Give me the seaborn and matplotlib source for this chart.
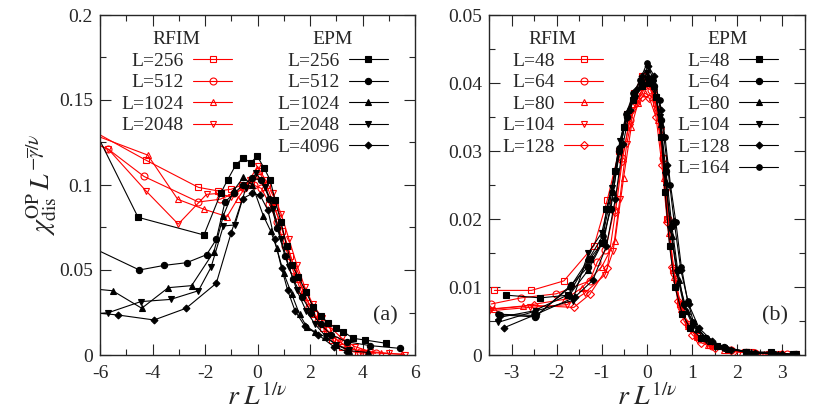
import pandas as pd
import matplotlib
matplotlib.use("Agg")
import matplotlib.pyplot as plt
import seaborn as sns
from matplotlib.ticker import MultipleLocator, FuncFormatter

# ---- panel (a): EPM, L = 256 ... 4096 ----
a_epm_256_x = [-6.9, -4.55, -2.04, -1.39, -1.14, -0.82, -0.54, -0.26, -0.01, 0.25, 0.48, 0.67, 0.9, 1.11, 1.3, 1.56, 1.85, 2.13, 2.42, 2.7, 3.0, 3.27, 3.65, 4.1, 4.9]
a_epm_256_y = [0.154, 0.081, 0.0706, 0.0955, 0.103, 0.112, 0.116, 0.113, 0.117, 0.110, 0.103, 0.091, 0.078, 0.064, 0.053, 0.046, 0.037, 0.028, 0.023, 0.0186, 0.0157, 0.0137, 0.0098, 0.0088, 0.0069]
a_epm_512_x = [-7.5, -4.5, -3.56, -2.7, -1.94, -1.57, -1.24, -0.9, -0.55, -0.2, 0.15, 0.45, 0.75, 1.05, 1.35, 1.7, 2.05, 2.4, 2.8, 3.4, 4.3, 5.43]
a_epm_512_y = [0.072, 0.050, 0.0527, 0.0543, 0.059, 0.068, 0.090, 0.095, 0.100, 0.104, 0.103, 0.092, 0.075, 0.058, 0.045, 0.034, 0.025, 0.018, 0.012, 0.0078, 0.0055, 0.0039]
a_epm_1024_x = [-7.0, -5.52, -4.41, -3.4, -2.51, -1.66, -1.3, -0.9, -0.54, -0.2, 0.22, 0.5, 0.73, 1.0, 1.3, 1.6, 1.87, 2.2, 2.57, 3.0, 3.5, 4.2]
a_epm_1024_y = [0.040, 0.0378, 0.0275, 0.0396, 0.0408, 0.0608, 0.082, 0.097, 0.1045, 0.100, 0.082, 0.073, 0.063, 0.048, 0.036, 0.024, 0.0167, 0.0135, 0.0108, 0.006, 0.0025, 0.0015]
a_epm_2048_x = [-7.0, -5.68, -4.45, -3.31, -2.25, -1.77, -1.3, -0.86, -0.45, -0.05, 0.3, 0.6, 0.9, 1.2, 1.5, 1.85, 2.2, 2.6, 3.0, 3.5]
a_epm_2048_y = [0.023, 0.0249, 0.0314, 0.0327, 0.0378, 0.0516, 0.0759, 0.0765, 0.098, 0.107, 0.099, 0.086, 0.068, 0.052, 0.038, 0.026, 0.018, 0.011, 0.006, 0.003]
a_epm_4096_x = [-7.0, -5.3, -3.94, -2.72, -1.57, -1.0, -0.57, -0.2, 0.1, 0.4, 0.65, 0.92, 1.15, 1.43, 1.8, 2.32, 2.9, 3.4]
a_epm_4096_y = [0.026, 0.0235, 0.0206, 0.0275, 0.0422, 0.072, 0.092, 0.095, 0.094, 0.085, 0.068, 0.051, 0.038, 0.026, 0.017, 0.0118, 0.005, 0.002]

# ---- panel (a): RFIM, L = 256 ... 2048 ----
a_rfim_256_x = [-7.0, -4.26, -2.25, -1.5, -1.0, -0.6, -0.25, 0.05, 0.35, 0.65, 0.95, 1.25, 1.55, 1.85, 2.15, 2.5, 2.85, 3.2, 3.6, 4.0]
a_rfim_256_y = [0.138, 0.1147, 0.0986, 0.0965, 0.0975, 0.100, 0.101, 0.108, 0.100, 0.087, 0.073, 0.058, 0.045, 0.034, 0.024, 0.016, 0.009, 0.005, 0.002, 0.001]
a_rfim_512_x = [-7.0, -5.68, -4.32, -2.25, -1.43, -0.9, -0.5, -0.15, 0.15, 0.45, 0.75, 1.05, 1.35, 1.65, 1.95, 2.3, 2.65, 3.0, 3.4, 3.9, 4.5]
a_rfim_512_y = [0.13, 0.121, 0.105, 0.090, 0.0916, 0.095, 0.098, 0.100, 0.098, 0.089, 0.078, 0.064, 0.050, 0.038, 0.028, 0.020, 0.0145, 0.009, 0.005, 0.002, 0.001]
a_rfim_1024_x = [-7.0, -4.18, -3.04, -2.03, -1.16, -0.75, -0.4, -0.05, 0.25, 0.55, 0.85, 1.15, 1.45, 1.75, 2.05, 2.4, 2.75, 3.1, 3.5, 4.0, 4.7, 5.5]
a_rfim_1024_y = [0.134, 0.1176, 0.0916, 0.0857, 0.0814, 0.092, 0.100, 0.105, 0.099, 0.090, 0.079, 0.064, 0.049, 0.037, 0.027, 0.019, 0.013, 0.008, 0.004, 0.002, 0.001, 0.0005]
a_rfim_2048_x = [-7.0, -5.68, -4.26, -3.02, -1.94, -1.5, -1.0, -0.6, -0.3, 0.0, 0.3, 0.6, 0.9, 1.2, 1.5, 1.8, 2.1, 2.45, 2.8, 3.2, 3.7, 4.3, 5.0, 5.6]
a_rfim_2048_y = [0.13, 0.121, 0.0967, 0.077, 0.0945, 0.095, 0.093, 0.098, 0.103, 0.111, 0.103, 0.095, 0.083, 0.068, 0.053, 0.040, 0.030, 0.022, 0.016, 0.010, 0.005, 0.002, 0.001, 0.0002]

# ---- panel (b): RFIM, L = 48 ... 128 ----
b_rfim_48_x = [-3.38, -2.56, -1.84, -1.17, -0.88, -0.62, -0.45, -0.28, -0.12, 0.05, 0.2, 0.35, 0.45, 0.58, 0.72, 0.9, 1.1, 1.4, 1.8, 2.3, 2.95]
b_rfim_48_y = [0.0095, 0.0095, 0.0109, 0.0161, 0.0228, 0.0300, 0.0355, 0.0385, 0.0410, 0.0400, 0.0370, 0.0290, 0.0200, 0.0125, 0.0075, 0.0045, 0.0028, 0.0015, 0.0008, 0.0004, 0.0002]
b_rfim_64_x = [-3.45, -2.79, -2.01, -1.27, -1.1, -0.92, -0.73, -0.55, -0.38, -0.22, -0.06, 0.08, 0.22, 0.36, 0.47, 0.6, 0.75, 0.92, 1.15, 1.45, 1.85, 2.4, 3.1]
b_rfim_64_y = [0.0075, 0.0084, 0.0090, 0.0109, 0.0137, 0.0154, 0.0213, 0.0290, 0.0345, 0.0375, 0.0395, 0.0390, 0.0360, 0.0290, 0.0200, 0.0120, 0.0070, 0.0042, 0.0024, 0.0013, 0.0007, 0.0003, 0.0001]
b_rfim_80_x = [-3.4, -2.75, -1.81, -1.44, -1.0, -0.71, -0.52, -0.35, -0.2, -0.05, 0.1, 0.25, 0.38, 0.48, 0.6, 0.75, 0.9, 1.1, 1.35, 1.7, 2.1, 2.6, 3.2]
b_rfim_80_y = [0.0068, 0.0072, 0.0082, 0.0099, 0.0130, 0.0167, 0.0260, 0.0335, 0.0370, 0.0385, 0.0380, 0.0345, 0.0260, 0.0180, 0.0115, 0.0068, 0.0043, 0.0026, 0.0015, 0.0008, 0.0004, 0.0002, 0.0001]
b_rfim_104_x = [-3.5, -2.6, -1.77, -1.38, -0.93, -0.75, -0.6, -0.45, -0.3, -0.15, 0.0, 0.15, 0.3, 0.42, 0.52, 0.64, 0.78, 0.95, 1.15, 1.4, 1.75, 2.2, 2.7, 3.3]
b_rfim_104_y = [0.0065, 0.0070, 0.0074, 0.0091, 0.0118, 0.0153, 0.0230, 0.0310, 0.0360, 0.0385, 0.0400, 0.0385, 0.0330, 0.0240, 0.0160, 0.0105, 0.0065, 0.0040, 0.0025, 0.0015, 0.0008, 0.0004, 0.0002, 0.0001]
b_rfim_128_x = [-3.49, -2.5, -1.62, -1.27, -0.88, -0.7, -0.55, -0.4, -0.25, -0.1, 0.05, 0.2, 0.33, 0.45, 0.56, 0.68, 0.82, 1.0, 1.2, 1.5, 1.9, 2.4, 3.0]
b_rfim_128_y = [0.0067, 0.0073, 0.0070, 0.0089, 0.0128, 0.0210, 0.0285, 0.0340, 0.0370, 0.0380, 0.0378, 0.0350, 0.0280, 0.0195, 0.0130, 0.0080, 0.0050, 0.0030, 0.0018, 0.0010, 0.0005, 0.0002, 0.0001]

# ---- panel (b): EPM, L = 48 ... 164 ----
b_epm_48_x = [-3.12, -2.36, -1.75, -1.27, -1.0, -0.9, -0.7, -0.5, -0.3, -0.12, 0.05, 0.2, 0.32, 0.4, 0.5, 0.62, 0.78, 0.95, 1.2, 1.55, 2.2, 2.75, 3.24]
b_epm_48_y = [0.0088, 0.0084, 0.0088, 0.0141, 0.0164, 0.0214, 0.0270, 0.0335, 0.0375, 0.0395, 0.0400, 0.0380, 0.0320, 0.0240, 0.0160, 0.0100, 0.0060, 0.0040, 0.0025, 0.0013, 0.0005, 0.0004, 0.0001]
b_epm_64_x = [-3.25, -2.47, -1.68, -1.3, -1.0, -0.8, -0.62, -0.45, -0.28, -0.12, 0.02, 0.16, 0.3, 0.42, 0.55, 0.68, 0.82, 1.03, 1.3, 1.7, 2.2, 2.8, 3.3]
b_epm_64_y = [0.0059, 0.0056, 0.0103, 0.0130, 0.0165, 0.0215, 0.0300, 0.0350, 0.0380, 0.0400, 0.0408, 0.0395, 0.0345, 0.0270, 0.0190, 0.0125, 0.0075, 0.0047, 0.0025, 0.0012, 0.0005, 0.0002, 0.0001]
b_epm_80_x = [-3.3, -2.5, -1.7, -1.3, -0.95, -0.75, -0.58, -0.42, -0.27, -0.12, 0.02, 0.16, 0.3, 0.42, 0.55, 0.7, 0.88, 1.1, 1.4, 1.8, 2.3, 2.9]
b_epm_80_y = [0.0055, 0.0065, 0.0090, 0.0125, 0.0170, 0.0240, 0.0310, 0.0360, 0.0385, 0.0400, 0.0410, 0.0395, 0.0340, 0.0255, 0.0175, 0.0110, 0.0065, 0.0038, 0.0020, 0.0009, 0.0004, 0.0001]
b_epm_104_x = [-3.3, -2.45, -1.65, -1.3, -1.0, -0.78, -0.6, -0.44, -0.28, -0.14, 0.0, 0.14, 0.28, 0.4, 0.52, 0.66, 0.82, 1.02, 1.3, 1.7, 2.2, 2.8, 3.3]
b_epm_104_y = [0.0048, 0.0065, 0.0080, 0.0150, 0.0180, 0.0245, 0.0315, 0.0355, 0.0380, 0.0400, 0.0415, 0.0400, 0.0350, 0.0265, 0.0185, 0.0120, 0.0072, 0.0043, 0.0022, 0.0010, 0.0004, 0.0002, 0.0001]
b_epm_128_x = [-3.17, -2.45, -1.6, -1.2, -0.9, -0.7, -0.53, -0.38, -0.24, -0.1, 0.03, 0.16, 0.3, 0.45, 0.6, 0.75, 0.92, 1.15, 1.45, 1.85, 2.4, 3.0]
b_epm_128_y = [0.0040, 0.0060, 0.0085, 0.0110, 0.0160, 0.0230, 0.0310, 0.0360, 0.0390, 0.0410, 0.0425, 0.0410, 0.0360, 0.0280, 0.0197, 0.0125, 0.0075, 0.0040, 0.0020, 0.0008, 0.0003, 0.0001]
b_epm_164_x = [-3.3, -2.45, -1.7, -1.3, -0.98, -0.78, -0.62, -0.46, -0.3, -0.15, 0.0, 0.14, 0.28, 0.4, 0.52, 0.64, 0.76, 0.9, 1.03, 1.3, 1.7, 2.2, 2.8, 3.3]
b_epm_164_y = [0.0060, 0.0058, 0.0100, 0.0140, 0.0175, 0.0240, 0.0305, 0.0355, 0.0385, 0.0405, 0.0429, 0.0405, 0.0375, 0.0320, 0.0250, 0.0195, 0.0130, 0.0080, 0.0048, 0.0025, 0.0011, 0.0005, 0.0002, 0.0001]

RED = "#ff0000"
BLACK = "#000000"


def draw_series(ax, x, y, color, marker, filled, label, ms):
    df = pd.DataFrame({"x": x, "y": y})
    sns.lineplot(data=df, x="x", y="y", ax=ax, color=color, marker=marker,
                 markersize=ms, markerfacecolor=color if filled else "none",
                 markeredgecolor=color, markeredgewidth=0.8, linewidth=0.8,
                 sort=False, estimator=None, label=label)


def style_axes(ax, xlim, ylim, xmaj, xmin, ymaj, ymin):
    ax.set_xlim(*xlim)
    ax.set_ylim(*ylim)
    ax.xaxis.set_major_locator(MultipleLocator(xmaj))
    ax.xaxis.set_minor_locator(MultipleLocator(xmin))
    ax.yaxis.set_major_locator(MultipleLocator(ymaj))
    ax.yaxis.set_minor_locator(MultipleLocator(ymin))
    fmt = FuncFormatter(lambda v, p: "%g" % round(v, 6))
    ax.xaxis.set_major_formatter(fmt)
    ax.yaxis.set_major_formatter(fmt)
    ax.tick_params(which="both", direction="in", top=True, right=True,
                   width=0.8, labelsize=14)
    ax.tick_params(which="major", length=8)
    ax.tick_params(which="minor", length=4)
    ax.tick_params(axis="x", pad=7)
    ax.tick_params(axis="y", pad=5)
    for s in ax.spines.values():
        s.set_linewidth(1.0)
    ax.set_xlabel(r"$r\;L^{1/\nu}$", fontsize=20, labelpad=1)
    ax.set_ylabel("")


def add_legends(ax, n_rfim, rfim_x, epm_x):
    handles, labels = ax.get_legend_handles_labels()
    common = dict(loc="upper right", frameon=False, markerfirst=False,
                  fontsize=14, title_fontsize=14, handlelength=2.0,
                  handletextpad=0.5, labelspacing=0.2, borderpad=0,
                  borderaxespad=0)
    leg1 = ax.legend(handles[:n_rfim], labels[:n_rfim], title="RFIM",
                     bbox_to_anchor=(rfim_x, 0.952), **common)
    ax.add_artist(leg1)
    leg2 = ax.legend(handles[n_rfim:], labels[n_rfim:], title="EPM",
                     bbox_to_anchor=(epm_x, 0.952), **common)
    # right-align the labels like the original
    for leg in (leg1, leg2):
        for col in leg._legend_handle_box.get_children():
            col.align = "right"


sns.set_style("ticks")
plt.rcParams["font.family"] = ["Liberation Serif", "DejaVu Serif"]
plt.rcParams["mathtext.fontset"] = "stix"

fig = plt.figure(figsize=(8.3, 4.15), dpi=100)
ax1 = fig.add_axes([100 / 830, 60 / 415, 315 / 830, 340 / 415])
ax2 = fig.add_axes([489 / 830, 60 / 415, 316 / 830, 340 / 415])

# panel (a)
draw_series(ax1, a_rfim_256_x, a_rfim_256_y, RED, "s", False, "L=256", 5)
draw_series(ax1, a_rfim_512_x, a_rfim_512_y, RED, "o", False, "L=512", 5)
draw_series(ax1, a_rfim_1024_x, a_rfim_1024_y, RED, "^", False, "L=1024", 5)
draw_series(ax1, a_rfim_2048_x, a_rfim_2048_y, RED, "v", False, "L=2048", 5)
draw_series(ax1, a_epm_256_x, a_epm_256_y, BLACK, "s", True, "L=256", 4.5)
draw_series(ax1, a_epm_512_x, a_epm_512_y, BLACK, "o", True, "L=512", 4.5)
draw_series(ax1, a_epm_1024_x, a_epm_1024_y, BLACK, "^", True, "L=1024", 4.5)
draw_series(ax1, a_epm_2048_x, a_epm_2048_y, BLACK, "v", True, "L=2048", 4.5)
draw_series(ax1, a_epm_4096_x, a_epm_4096_y, BLACK, "D", True, "L=4096", 3.5)
style_axes(ax1, (-6, 6), (0, 0.2), 2, 1, 0.05, 0.025)
add_legends(ax1, 4, 0.419, 0.914)
ax1.set_ylabel(r"$\chi_{\rm dis}^{\rm OP}\,L^{-\overline{\gamma}/\nu}$",
               fontsize=20, labelpad=0)
ax1.text(0.905, 0.115, "(a)", transform=ax1.transAxes, fontsize=16,
         ha="center", va="center")

# panel (b)
draw_series(ax2, b_rfim_48_x, b_rfim_48_y, RED, "s", False, "L=48", 5)
draw_series(ax2, b_rfim_64_x, b_rfim_64_y, RED, "o", False, "L=64", 5)
draw_series(ax2, b_rfim_80_x, b_rfim_80_y, RED, "^", False, "L=80", 5)
draw_series(ax2, b_rfim_104_x, b_rfim_104_y, RED, "v", False, "L=104", 5)
draw_series(ax2, b_rfim_128_x, b_rfim_128_y, RED, "D", False, "L=128", 4)
draw_series(ax2, b_epm_48_x, b_epm_48_y, BLACK, "s", True, "L=48", 4.5)
draw_series(ax2, b_epm_64_x, b_epm_64_y, BLACK, "o", True, "L=64", 4.5)
draw_series(ax2, b_epm_80_x, b_epm_80_y, BLACK, "^", True, "L=80", 4.5)
draw_series(ax2, b_epm_104_x, b_epm_104_y, BLACK, "v", True, "L=104", 4.5)
draw_series(ax2, b_epm_128_x, b_epm_128_y, BLACK, "D", True, "L=128", 3.5)
draw_series(ax2, b_epm_164_x, b_epm_164_y, BLACK, "o", True, "L=164", 4)
style_axes(ax2, (-3.5, 3.5), (0, 0.05), 1, 0.5, 0.01, 0.005)
add_legends(ax2, 5, 0.361, 0.915)
ax2.text(0.905, 0.115, "(b)", transform=ax2.transAxes, fontsize=16,
         ha="center", va="center")

fig.savefig("out.png", dpi=100)
